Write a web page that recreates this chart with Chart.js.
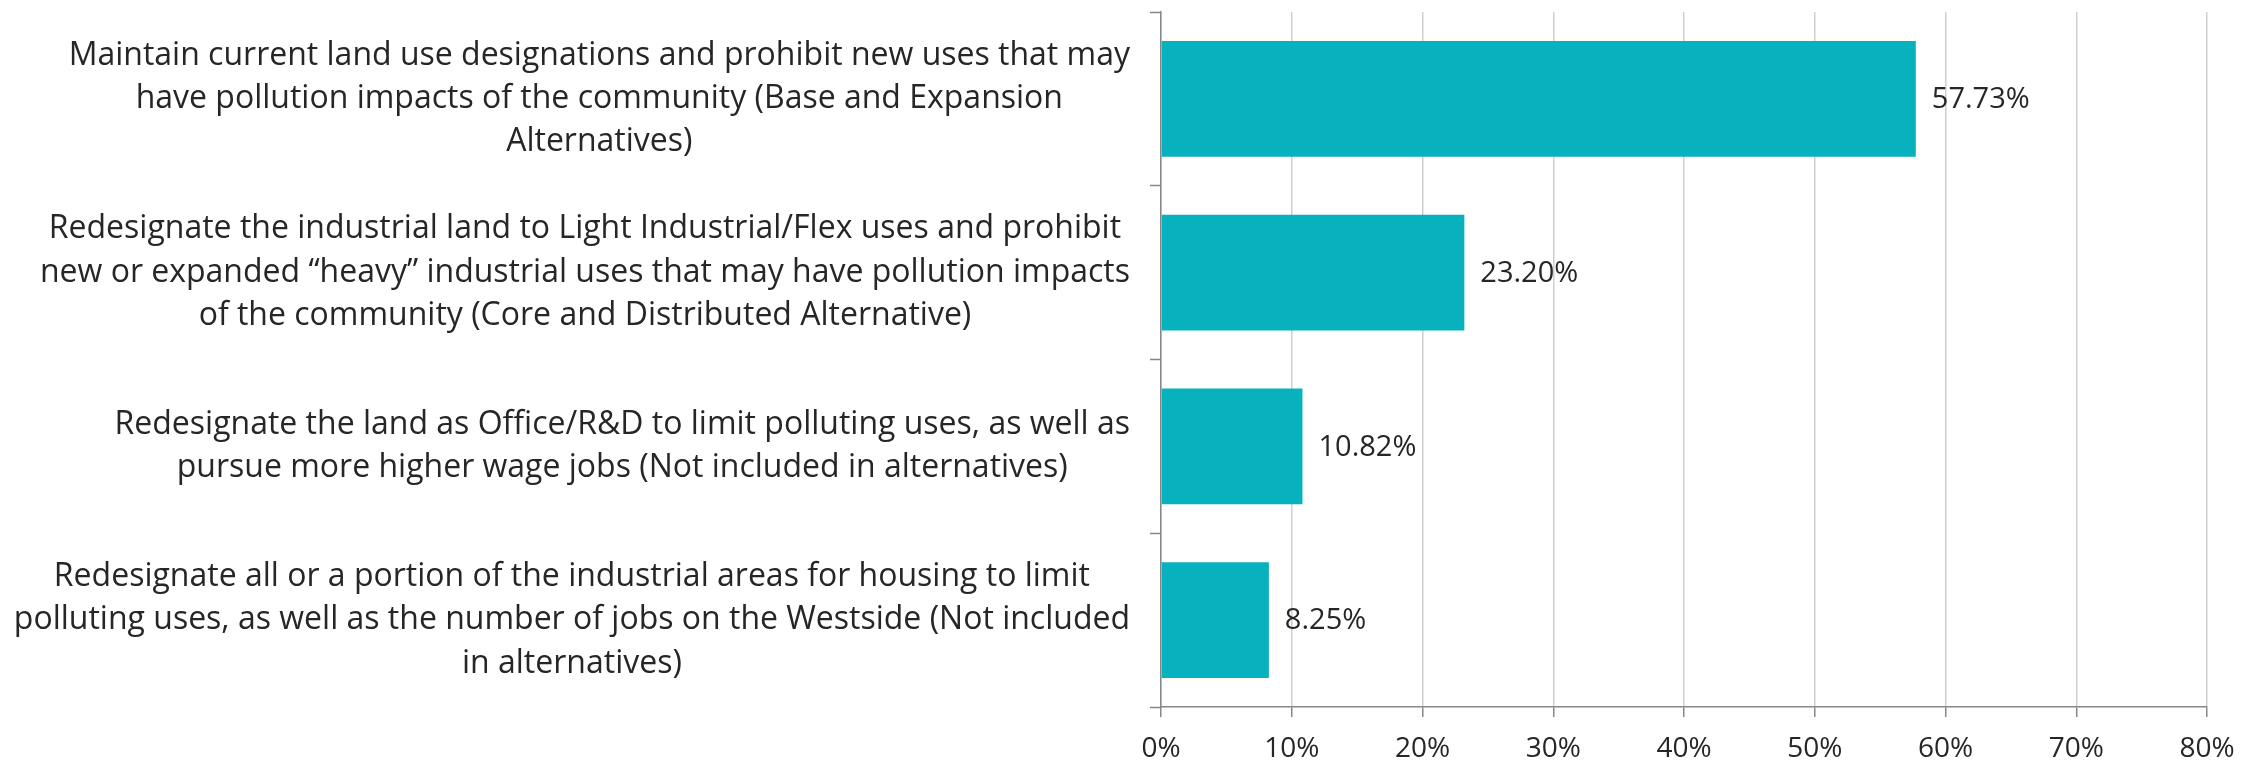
<!DOCTYPE html>
<html>
<head>
<meta charset="utf-8">
<script src="https://cdn.jsdelivr.net/npm/chart.js@4.4.1/dist/chart.umd.min.js"></script>
<style>
  html, body { margin: 0; padding: 0; background: #ffffff; }
  #wrap { width: 2264px; height: 765px; }
</style>
</head>
<body>
<div id="wrap"><canvas id="c" width="2264" height="765"></canvas></div>
<script>
// ---- data ----
const categories = [
  ["Maintain current land use designations and prohibit new uses that may",
   "have pollution impacts of the community (Base and Expansion",
   "Alternatives)"],
  ["Redesignate the industrial land to Light Industrial/Flex uses and prohibit",
   "new or expanded \u201cheavy\u201d industrial uses that may have pollution impacts",
   "of the community (Core and Distributed Alternative)"],
  ["Redesignate the land as Office/R&D to limit polluting uses, as well as",
   "pursue more higher wage jobs (Not included in alternatives)"],
  ["Redesignate all or a portion of the industrial areas for housing to limit",
   "polluting uses, as well as the number of jobs on the Westside (Not included",
   "in alternatives)"]
];
const values = [57.73, 23.20, 10.82, 8.25];
const xTickMin = 0;
const xTickMax = 80;
const xTickStep = 10;

// ---- style ----
const FONT = "'Open Sans', 'Noto Sans', sans-serif";
const TEXT = '#262626';
const BAR = '#07B1BE';
const AXIS = '#878787';
const GRID = '#cfcfcf';
const Y_TICK_LEN = 11;
const Y_TICK_PAD = 20;

// Centre each category label within its own block, blocks right-aligned to the axis
const yLabelAlign = {
  id: 'yLabelAlign',
  beforeDraw(chart) {
    const scale = chart.scales.y;
    const items = scale.getLabelItems();
    const ctx = chart.ctx;
    items.forEach(item => {
      ctx.save();
      ctx.font = item.font.string;
      const lines = Array.isArray(item.label) ? item.label : [item.label];
      const w = Math.max(...lines.map(l => ctx.measureText(l).width));
      ctx.restore();
      item.options.textAlign = 'center';
      item.options.translation[0] = scale.right - Y_TICK_LEN - Y_TICK_PAD - w / 2;
    });
  }
};

const valueLabels = {
  id: 'valueLabels',
  afterDatasetsDraw(chart) {
    const ctx = chart.ctx;
    const meta = chart.getDatasetMeta(0);
    ctx.save();
    ctx.font = "29px " + FONT;
    ctx.fillStyle = TEXT;
    ctx.textAlign = 'left';
    ctx.textBaseline = 'middle';
    meta.data.forEach((bar, i) => {
      ctx.fillText(values[i].toFixed(2) + '%', bar.x + 16, bar.y + 1);
    });
    ctx.restore();
  }
};

new Chart(document.getElementById('c'), {
  type: 'bar',
  data: {
    labels: categories,
    datasets: [{
      data: values,
      backgroundColor: BAR,
      borderWidth: 0,
      categoryPercentage: 1.0,
      barPercentage: 0.667
    }]
  },
  plugins: [yLabelAlign, valueLabels],
  options: {
    indexAxis: 'y',
    responsive: false,
    devicePixelRatio: 1,
    animation: false,
    layout: { padding: { left: 0, top: 12, right: 57, bottom: 0 } },
    plugins: {
      legend: { display: false },
      tooltip: { enabled: false }
    },
    scales: {
      x: {
        type: 'linear',
        min: xTickMin,
        max: xTickMax,
        ticks: {
          stepSize: xTickStep,
          callback: v => v + '%',
          color: TEXT,
          font: { family: FONT, size: 28, lineHeight: 1 },
          padding: 18
        },
        grid: {
          color: GRID,
          lineWidth: 1.5,
          drawTicks: true,
          tickLength: 10,
          tickColor: AXIS,
          tickWidth: 1.5
        },
        border: { display: true, color: AXIS, width: 1.5 },
        afterFit: s => { s.height = 58; }
      },
      y: {
        ticks: {
          autoSkip: false,
          color: TEXT,
          font: { family: FONT, size: 32, lineHeight: 1.353 },
          padding: Y_TICK_PAD,
          crossAlign: 'near'
        },
        grid: {
          drawOnChartArea: false,
          drawTicks: true,
          tickLength: Y_TICK_LEN,
          tickColor: AXIS,
          tickWidth: 1.5,
          offset: true
        },
        border: { display: true, color: AXIS, width: 1.5 },
        afterFit: s => { s.width = 1161; s.paddingTop = 0; s.paddingBottom = 0; }
      }
    }
  }
});
</script>
</body>
</html>
